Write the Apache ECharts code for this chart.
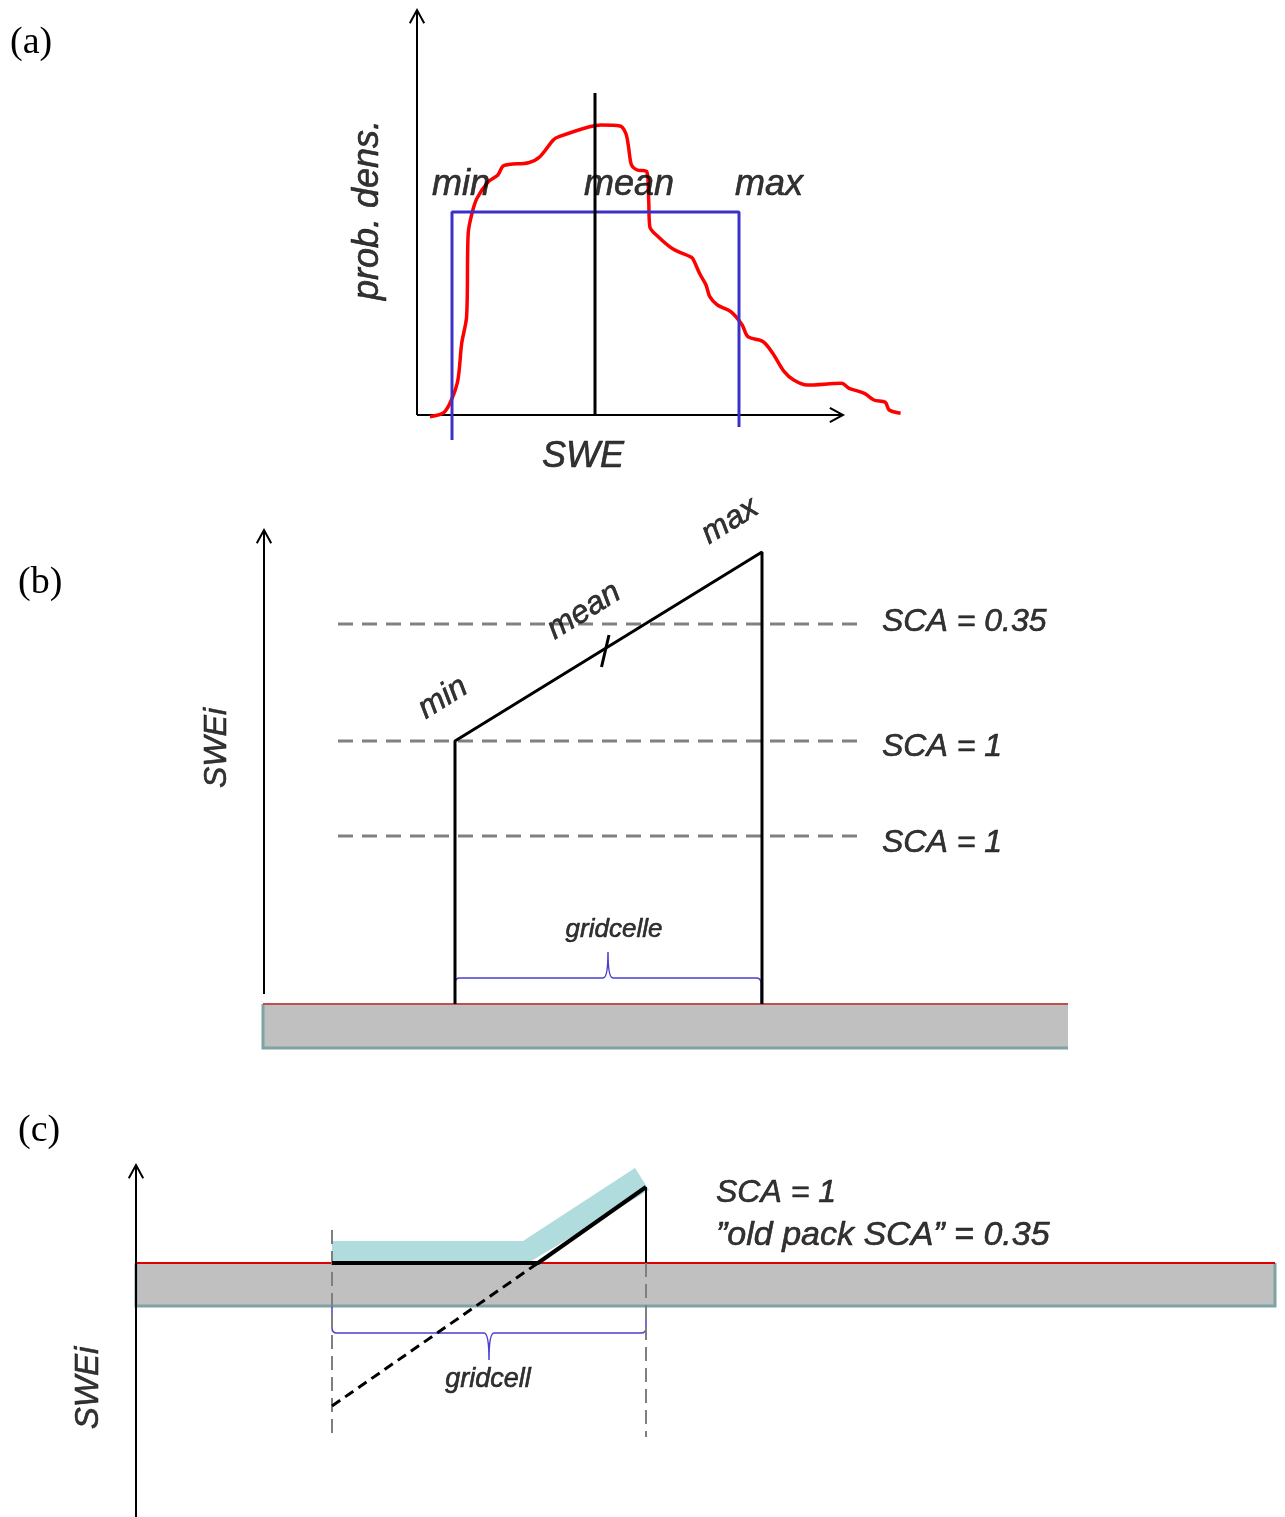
<!DOCTYPE html>
<html>
<head>
<meta charset="utf-8">
<script src="https://cdn.jsdelivr.net/npm/echarts@6/dist/echarts.min.js"></script>
<style>
  html, body { margin: 0; padding: 0; background: #fff; }
  #chart { width: 1285px; height: 1517px; }
</style>
</head>
<body>
<div id="chart"></div>
<script>
// all panels use a plain schematic unit (1 unit = 10 px on screen)

// ---- (a) probability density of SWE ----
const aAxes = [[0, 0, 0, 40.5], [0, 0, 42.6, 0]];
const aDensity = [
  [1.3, -0.17], [2.67, 0.23], [3.44, 1.5], [4.09, 3.5], [4.47, 7.17], [4.96, 9.83],
  [5.12, 18.17], [5.5, 20.17], [6.0, 21.67], [7.14, 23.33], [8.09, 24.0], [8.67, 24.93],
  [11.15, 25.23], [12.29, 25.83], [13.63, 27.5], [14.2, 27.83], [17.25, 28.83], [18.4, 29.0],
  [20.3, 28.9], [20.88, 28.17], [21.15, 26.83], [21.45, 25.0], [22.03, 24.5], [22.98, 24.33],
  [23.17, 21.5], [23.28, 18.83], [24.12, 17.83], [25.65, 16.57], [27.18, 15.9], [27.56, 15.67],
  [28.25, 14.17], [28.9, 13.0], [29.28, 11.83], [30.04, 11.0], [31.38, 10.33], [32.52, 9.0],
  [33.09, 7.83], [34.62, 7.33], [35.57, 6.17], [36.72, 4.33], [37.67, 3.5], [39.01, 3.0],
  [42.45, 3.17], [43.21, 2.67], [44.74, 2.17], [45.69, 1.5], [46.83, 1.27], [47.22, 0.5],
  [48.36, 0.17]
];
const aUniform = [[3.5, -2.5], [3.5, 20.3], [32.2, 20.3], [32.2, -1.2]];
const aMean = [[17.8, 0], [17.8, 32.2]];
const aLabels = [['min', 4.4, 23.0], ['mean', 21.2, 23.0], ['max', 35.2, 23.0], ['SWE', 16.6, -4.2]];
const aYName = [['prob. dens.', -4.9, 20.5]];

// ---- (b) SWEi profile over a grid cell ----
const bAxes = [[0, 1.0, 0, 47.4]];
const bGround = [[-0.1, 0, 80.4, -4.4, 0]];
const bProfile = [[19.1, 0], [19.1, 26.3], [49.8, 45.2], [49.8, 0]];
const bMeanTick = [[33.75, 33.7], [34.5, 36.9]];
const bLevels = [38.0, 26.3, 16.8];
const bLevelX = [7.4, 59.5];
const bScaLabels = [['SCA = 0.35', 61.8, 38.2], ['SCA = 1', 61.8, 25.7], ['SCA = 1', 61.8, 16.1]];
const bSlopeLabels = [['min', 17.9, 30.6], ['mean', 32.0, 39.3], ['max', 46.6, 48.3]];
const bBrace = [[19.1, 49.7, 34.4, 2.6, 0, 5.2]];
const bCellLabel = [['gridcelle', 35.0, 7.4]];
const bYName = [['SWEi', -4.7, 25.6]];

// ---- (c) old pack below ground level ----
const cAxes = [[0, -25.4, 0, 9.8]];
const cGround = [[0, 0, 113.9, -4.3, 1]];
const cNewSnow = [[19.6, 2.2], [38.7, 2.2], [49.9, 9.5], [51.3, 7.3], [39.2, 0], [19.6, 0]];
const cProfile = [[19.6, 0], [40.2, 0], [51.0, 7.6], [51.0, 0]];
const cOldPack = [[19.6, -14.3], [40.2, 0]];
const cCellEdges = [[[19.6, 3.3], [19.6, -17.4]], [[51.0, 0], [51.0, -17.4]]];
const cBrace = [[19.6, 51.0, 35.3, -7.0, -4.3, -9.7]];
const cScaLabel = [['SCA = 1', 58.0, 7.0]];
const cOldLabel = [['\u201Dold pack SCA\u201D = 0.35', 58.0, 2.7]];
const cCellLabel = [['gridcell', 35.2, -11.6]];
const cYName = [['SWEi', -4.7, -12.5]];

const SANS = 'Liberation Sans';

function renderArrow(params, api) {
  const p0 = api.coord([api.value(0), api.value(1)]);
  const p1 = api.coord([api.value(2), api.value(3)]);
  const ang = Math.atan2(p1[1] - p0[1], p1[0] - p0[0]);
  const L = 15, sp = 0.5;
  const h1 = [p1[0] - L * Math.cos(ang - sp), p1[1] - L * Math.sin(ang - sp)];
  const h2 = [p1[0] - L * Math.cos(ang + sp), p1[1] - L * Math.sin(ang + sp)];
  return {
    type: 'group',
    children: [
      { type: 'line', shape: { x1: p0[0], y1: p0[1], x2: p1[0], y2: p1[1] }, style: { stroke: '#000', lineWidth: 2 } },
      { type: 'polyline', shape: { points: [h1, p1, h2] }, style: { stroke: '#000', lineWidth: 2, fill: null } }
    ]
  };
}

function makeGround(topColor) {
  return function (params, api) {
    const p0 = api.coord([api.value(0), api.value(1)]);
    const p1 = api.coord([api.value(2), api.value(3)]);
    const x = p0[0], y = p0[1], w = p1[0] - p0[0], h = p1[1] - p0[1];
    const edge = api.value(4)
      ? [[x, y], [x, y + h], [x + w, y + h], [x + w, y]]
      : [[x, y], [x, y + h], [x + w, y + h]];
    return {
      type: 'group',
      children: [
        { type: 'rect', shape: { x: x, y: y, width: w, height: h }, style: { fill: '#c0c0c0' } },
        { type: 'polyline', shape: { points: edge }, style: { stroke: '#7fa2a3', lineWidth: 3, fill: null } },
        { type: 'line', shape: { x1: x, y1: y, x2: x + w, y2: y }, style: { stroke: topColor, lineWidth: 2 } }
      ]
    };
  };
}

function renderBrace(params, api) {
  const a = api.coord([api.value(0), api.value(3)]);
  const b = api.coord([api.value(1), api.value(3)]);
  const c = api.coord([api.value(2), api.value(5)]);
  const yEnd = api.coord([api.value(0), api.value(4)])[1];
  const yl = a[1];
  const s = Math.sign(yEnd - yl);
  const r = 5, n = 5;
  const d = 'M' + a[0] + ' ' + yEnd +
    ' L' + a[0] + ' ' + (yl + s * r) +
    ' Q' + a[0] + ' ' + yl + ' ' + (a[0] + r) + ' ' + yl +
    ' L' + (c[0] - n) + ' ' + yl +
    ' Q' + c[0] + ' ' + yl + ' ' + c[0] + ' ' + c[1] +
    ' Q' + c[0] + ' ' + yl + ' ' + (c[0] + n) + ' ' + yl +
    ' L' + (b[0] - r) + ' ' + yl +
    ' Q' + b[0] + ' ' + yl + ' ' + b[0] + ' ' + (yl + s * r) +
    ' L' + b[0] + ' ' + yEnd;
  return { type: 'path', shape: { pathData: d }, style: { stroke: '#4a3fd0', lineWidth: 1.5, fill: null } };
}

function polygonSeries(g, pts, color) {
  return {
    type: 'custom', xAxisIndex: g, yAxisIndex: g, silent: true, z: 2,
    data: [pts.flat()],
    renderItem: function (params, api) {
      const out = [];
      for (let i = 0; i < pts.length; i++) {
        out.push(api.coord([api.value(2 * i), api.value(2 * i + 1)]));
      }
      return { type: 'polygon', shape: { points: out }, style: { fill: color } };
    }
  };
}

function customSeries(g, data, fn, z) {
  return { type: 'custom', xAxisIndex: g, yAxisIndex: g, silent: true, z: z || 3, data: data, renderItem: fn };
}

function lineSeries(g, data, color, width, dash, z, smooth) {
  return {
    type: 'line', xAxisIndex: g, yAxisIndex: g, data: data, symbol: 'none', silent: true,
    smooth: smooth || false,
    z: z || 4, lineStyle: { color: color, width: width, type: dash || 'solid', cap: 'butt' }
  };
}

function textSeries(g, items, size, opts) {
  opts = opts || {};
  return {
    type: 'scatter', xAxisIndex: g, yAxisIndex: g, symbolSize: 0, silent: true, z: 6,
    data: items.map(t => ({ value: [t[1], t[2]], label: { formatter: t[0] } })),
    label: {
      show: true, position: [0, 0], align: opts.align || 'center', verticalAlign: 'middle',
      rotate: opts.rotate || 0, fontFamily: SANS, fontStyle: 'italic', fontSize: size, color: '#000',
      textBorderColor: '#000', textBorderWidth: 0.6
    }
  };
}

const chart = echarts.init(document.getElementById('chart'));

const grids = [
  { left: 0, top: 0, width: 1285, height: 480 },
  { left: 0, top: 470, width: 1285, height: 600 },
  { left: 0, top: 1100, width: 1285, height: 417 }
];
const xRanges = [[-41.7, 86.8], [-26.4, 102.1], [-13.6, 114.9]];
const yRanges = [[-6.5, 41.5], [-6.6, 53.4], [-25.4, 16.3]];

const letterStyle = { fontFamily: 'Liberation Serif', fontSize: 38, fontWeight: 'normal', color: '#000' };

const series = [
  // (a)
  customSeries(0, aAxes, renderArrow, 3),
  lineSeries(0, aDensity, '#ff0000', 3.5, 'solid', 4, 0.3),
  lineSeries(0, aUniform, '#3a32c8', 3, 'solid', 5),
  lineSeries(0, aMean, '#000', 3, 'solid', 5),
  textSeries(0, aLabels, 36),
  textSeries(0, aYName, 36, { rotate: 90 }),

  // (b)
  customSeries(1, bGround, makeGround('#c0504d'), 1),
  customSeries(1, bAxes, renderArrow, 3),
  lineSeries(1, bProfile, '#000', 3),
  lineSeries(1, bMeanTick, '#000', 3),
  customSeries(1, bBrace, renderBrace, 3),
  textSeries(1, bScaLabels, 32, { align: 'left' }),
  textSeries(1, bSlopeLabels, 32, { rotate: 32 }),
  textSeries(1, bCellLabel, 26),
  textSeries(1, bYName, 32, { rotate: 90 }),

  // (c)
  customSeries(2, cGround, makeGround('#e00000'), 1),
  polygonSeries(2, cNewSnow, '#b0dcdd'),
  customSeries(2, cAxes, renderArrow, 3),
  lineSeries(2, cOldPack, '#000', 3, [10, 6]),
  lineSeries(2, cProfile.slice(0, 3), '#000', 4),
  lineSeries(2, cProfile.slice(2), '#000', 2),
  customSeries(2, cBrace, renderBrace, 3),
  textSeries(2, cScaLabel, 32, { align: 'left' }),
  textSeries(2, cOldLabel, 34, { align: 'left' }),
  textSeries(2, cCellLabel, 27),
  textSeries(2, cYName, 33, { rotate: 90 })
];
bLevels.forEach(y => series.push(lineSeries(1, [[bLevelX[0], y], [bLevelX[1], y]], '#808080', 3, [15, 9], 3)));
cCellEdges.forEach(e => series.push(lineSeries(2, e, '#7f7f7f', 2, [14, 7], 3)));

const option = {
  backgroundColor: '#fff',
  animation: false,
  title: [
    { text: '(a)', left: 10, top: 24, padding: 0, textStyle: letterStyle },
    { text: '(b)', left: 18, top: 564, padding: 0, textStyle: letterStyle },
    { text: '(c)', left: 18, top: 1112, padding: 0, textStyle: letterStyle }
  ],
  grid: grids,
  xAxis: xRanges.map((r, i) => ({ type: 'value', gridIndex: i, min: r[0], max: r[1], show: false })),
  yAxis: yRanges.map((r, i) => ({ type: 'value', gridIndex: i, min: r[0], max: r[1], show: false })),
  series: series
};

option && chart.setOption(option);
</script>
</body>
</html>
